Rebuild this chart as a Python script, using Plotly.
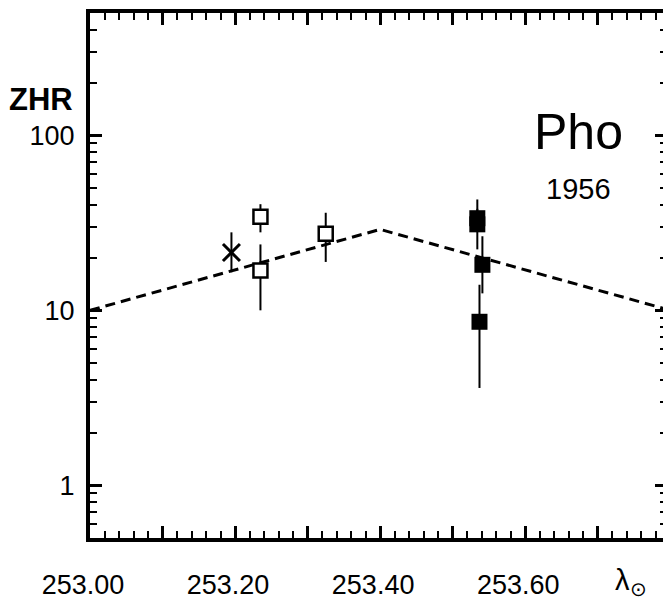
import numpy as np
import plotly.graph_objects as go

# Dashed model profile (solar longitude vs ZHR)
model_lon = [253.00, 253.40, 253.80]
model_zhr = [10.0, 29.0, 10.0]

# Open squares
open_lon = [253.235, 253.235, 253.325]
open_zhr = [34.3, 16.9, 27.4]
open_hi = [40.4, 23.8, 36.1]
open_lo = [27.9, 10.0, 18.9]

# Asterisk
star_lon = [253.195]
star_zhr = [21.4]
star_hi = [27.9]
star_lo = [16.5]

# Filled squares
filled_lon = [253.534, 253.534, 253.541, 253.537]
filled_zhr = [33.6, 31.0, 18.2, 8.6]
filled_hi = [43.0, 38.0, 26.5, 14.0]
filled_lo = [28.0, 22.3, 12.5, 3.6]

# Axis ticks
x_labelvals = [253.0, 253.2, 253.4, 253.6]
x_labeltext = ["253.00", "253.20", "253.40", "253.60"]
x_oddmajors = [253.1, 253.3, 253.5, 253.7]
y_tickvals = [1, 10, 100]
y_ticktext = ["1", "10", "100"]
y_minorvals = [0.6, 0.7, 0.8, 0.9] + [m * d for d in (1, 10, 100) for m in range(2, 10)]

X_RANGE = [253.0, 253.790]
Y_RANGE = [np.log10(0.5), np.log10(500)]


def err(vals, hi, lo):
    up = [h - v for h, v in zip(hi, vals)]
    dn = [v - l for v, l in zip(vals, lo)]
    return dict(type="data", symmetric=False, array=up, arrayminus=dn,
                color="black", thickness=2, width=0)


fig = go.Figure()

fig.add_trace(go.Scatter(
    x=model_lon, y=model_zhr, mode="lines",
    line=dict(color="black", width=3, dash="10px,6px"),
    hoverinfo="skip", showlegend=False))

fig.add_trace(go.Scatter(
    x=star_lon, y=star_zhr, mode="markers",
    marker=dict(symbol="x-thin", size=17, line=dict(color="black", width=3)),
    error_y=err(star_zhr, star_hi, star_lo), showlegend=False))

fig.add_trace(go.Scatter(
    x=open_lon, y=open_zhr, mode="markers",
    marker=dict(symbol="square", size=14, color="white",
                line=dict(color="black", width=2.5)),
    error_y=err(open_zhr, open_hi, open_lo), showlegend=False))

fig.add_trace(go.Scatter(
    x=filled_lon, y=filled_zhr, mode="markers",
    marker=dict(symbol="square", size=16, color="black",
                line=dict(color="black", width=0)),
    error_y=err(filled_zhr, filled_hi, filled_lo), showlegend=False))

# anchor for the secondary tick axes (top/bottom odd majors, right side)
fig.add_trace(go.Scatter(
    x=[model_lon[0]], y=[model_zhr[0]], xaxis="x2", yaxis="y2", mode="markers",
    marker=dict(opacity=0), hoverinfo="skip", showlegend=False))

tick_font = dict(family="Liberation Sans, Arial, sans-serif", size=27, color="black")
major = dict(ticks="inside", ticklen=12, tickwidth=2.5, tickcolor="black")
minor_x = dict(ticks="inside", ticklen=7, tickwidth=2, tickcolor="black",
               dtick=0.02, tick0=253.0, showgrid=False)
minor_y = dict(ticks="inside", ticklen=7, tickwidth=2, tickcolor="black",
               tickvals=y_minorvals, showgrid=False)

fig.update_layout(
    width=663, height=600,
    margin=dict(l=90, r=0, t=13, b=60),
    paper_bgcolor="white", plot_bgcolor="white",
    xaxis=dict(
        range=X_RANGE, tickvals=x_labelvals, ticktext=x_labeltext, **major,
        showline=True, linewidth=4, linecolor="black", mirror="ticks",
        showgrid=False, zeroline=False, tickfont=tick_font,
        ticklabelshift=-7, ticklabelstandoff=20, minor=minor_x,
    ),
    xaxis2=dict(
        range=X_RANGE, overlaying="x", anchor="y", side="bottom",
        tickvals=x_oddmajors, showticklabels=False, **major,
        showline=False, mirror="ticks", showgrid=False, zeroline=False,
    ),
    yaxis=dict(
        type="log", range=Y_RANGE, tickvals=y_tickvals, ticktext=y_ticktext, **major,
        showline=True, linewidth=4, linecolor="black", mirror=False,
        showgrid=False, zeroline=False, tickfont=tick_font,
        ticklabelstandoff=6, minor=minor_y,
    ),
    yaxis2=dict(
        type="log", range=Y_RANGE, overlaying="y", side="right", anchor="x",
        tickvals=y_tickvals, showticklabels=False,
        ticks="inside", ticklen=8, tickwidth=2.5, tickcolor="black",
        showline=False, showgrid=False, zeroline=False,
        minor=dict(ticks="inside", ticklen=3, tickwidth=2, tickcolor="black",
                   tickvals=y_minorvals, showgrid=False),
    ),
    annotations=[
        dict(text="<b>ZHR</b>", xref="paper", yref="paper", x=-0.0855, y=0.835,
             xanchor="center", yanchor="middle", showarrow=False,
             font=dict(family="Liberation Sans, Arial, sans-serif", size=31, color="black")),
        dict(text="Pho", xref="paper", yref="paper", x=0.852, y=0.774,
             xanchor="center", yanchor="middle", showarrow=False,
             font=dict(family="Liberation Sans Narrow, Liberation Sans, sans-serif", size=50, color="black")),
        dict(text="1956", xref="paper", yref="paper", x=0.853, y=0.664,
             xanchor="center", yanchor="middle", showarrow=False,
             font=dict(family="Liberation Sans, Arial, sans-serif", size=29, color="black")),
        dict(text="λ<sub>⊙</sub>", xref="paper", yref="paper", x=0.975, y=-0.045,
             xanchor="right", yanchor="top", showarrow=False,
             font=dict(family="Liberation Sans, Arial, sans-serif", size=29, color="black")),
    ],
)

fig.write_html("out.html")
